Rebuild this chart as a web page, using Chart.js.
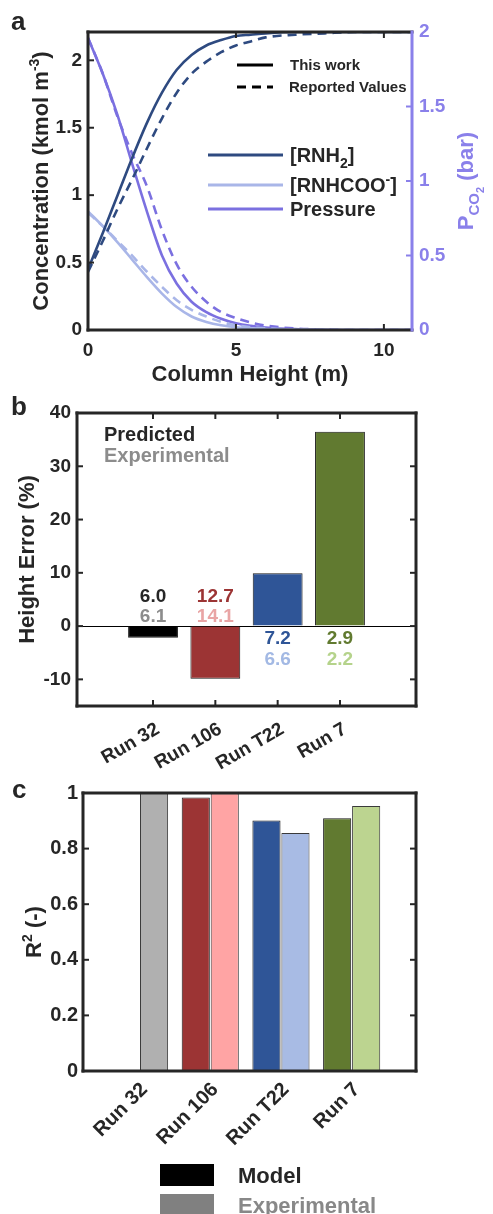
<!DOCTYPE html>
<html><head><meta charset="utf-8">
<script src="https://cdn.jsdelivr.net/npm/chart.js@4.4.0/dist/chart.umd.min.js"></script>
<style>
html,body{margin:0;padding:0;background:#fff;}
body{width:493px;height:1214px;position:relative;overflow:hidden;}
canvas{position:absolute;left:0;}
</style></head><body>
<canvas id="ca" width="493" height="390" style="top:0px"></canvas>
<canvas id="cb" width="493" height="390" style="top:380px"></canvas>
<canvas id="cc" width="493" height="454" style="top:760px"></canvas>
<script>
// ---------------- DATA ----------------
// Panel a: column height (m)
const heightsA = [0, 0.5, 1, 1.5, 2, 2.5, 3, 3.5, 4, 4.5, 5, 5.5, 6, 7, 8, 9, 10, 11];
const rnh2Model      = [0.45, 0.72, 1.00, 1.28, 1.54, 1.76, 1.93, 2.04, 2.11, 2.15, 2.18, 2.19, 2.20, 2.21, 2.21, 2.21, 2.21, 2.21];
const rnh2Reported   = [0.43, 0.66, 0.90, 1.12, 1.35, 1.57, 1.76, 1.90, 1.99, 2.06, 2.11, 2.14, 2.17, 2.19, 2.20, 2.21, 2.21, 2.21];
const rnhcooModel    = [0.88, 0.77, 0.65, 0.52, 0.39, 0.27, 0.17, 0.10, 0.06, 0.035, 0.02, 0.012, 0.007, 0.003, 0.001, 0, 0, 0];
const rnhcooReported = [0.87, 0.77, 0.66, 0.55, 0.43, 0.32, 0.22, 0.15, 0.10, 0.06, 0.035, 0.02, 0.012, 0.004, 0.001, 0, 0, 0];
const pressureModel    = [1.96, 1.72, 1.44, 1.11, 0.79, 0.50, 0.31, 0.19, 0.12, 0.075, 0.045, 0.028, 0.017, 0.006, 0.002, 0, 0, 0];
const pressureReported = [1.96, 1.72, 1.43, 1.18, 0.96, 0.67, 0.44, 0.29, 0.19, 0.12, 0.08, 0.05, 0.03, 0.01, 0.003, 0, 0, 0];
const xTicksA = [0, 5, 10];
const concTicks = [0, 0.5, 1, 1.5, 2];
const presTicks = [0, 0.5, 1, 1.5, 2];

// Panel b / c
const runs = ['Run 32', 'Run 106', 'Run T22', 'Run 7'];
const heightErrorPct = [-2.2, -9.9, 9.9, 36.5];
const predictedHeight = [6.0, 12.7, 7.2, 2.9];
const experimentalHeight = [6.1, 14.1, 6.6, 2.2];
const errTicks = [-10, 0, 10, 20, 30, 40];
const r2Model = [0.004, 0.984, 0.901, 0.909];
const r2Experimental = [0.999, 0.999, 0.856, 0.953];
const r2Ticks = [0, 0.2, 0.4, 0.6, 0.8, 1];

// ---------------- STYLE ----------------
const FAMILY = '"Liberation Sans", Arial, Helvetica, sans-serif';
const ink = '#262626';
const purpleAxis = '#8a80ea';
const colRNH2 = '#2e4a80';
const colRNHCOO = '#a9b6e8';
const colP = '#7b70e0';
const DASH = [9, 6];
const runColors = ['#000000', '#9c3434', '#2f5597', '#617a30'];
const runLightText = ['#8c8c8c', '#e9a5a5', '#a3b9e4', '#b5d38b'];
const runLightBars = ['#b0b0b0', '#ffa4a4', '#a8bbe4', '#bcd490'];

Chart.defaults.font.family = FAMILY;
Chart.defaults.font.weight = 'bold';
Chart.defaults.color = ink;

// ---------------- HELPERS ----------------
function drawRich(ctx, x, y, segs, opt) {
  ctx.save();
  ctx.translate(x, y);
  ctx.rotate(opt.rotation || 0);
  ctx.textBaseline = 'alphabetic';
  ctx.textAlign = 'left';
  let w = 0;
  segs.forEach(s => { ctx.font = `bold ${s.size}px ${FAMILY}`; w += ctx.measureText(s.text).width; });
  let cx = opt.align === 'center' ? -w / 2 : (opt.align === 'right' ? -w : 0);
  segs.forEach(s => {
    ctx.font = `bold ${s.size}px ${FAMILY}`;
    ctx.fillStyle = s.color || opt.color || ink;
    ctx.fillText(s.text, cx, s.dy || 0);
    cx += ctx.measureText(s.text).width;
  });
  ctx.restore();
}

const framePlugin = {
  id: 'frame',
  afterDatasetsDraw(chart, args, opts) {
    const {ctx, chartArea: a} = chart;
    ctx.save();
    (opts.ticks || []).forEach(t => {
      const sc = chart.scales[t.scale];
      ctx.strokeStyle = t.color; ctx.lineWidth = 2;
      sc.ticks.forEach(tk => {
        const p = sc.getPixelForValue(tk.value);
        ctx.beginPath();
        if (t.side === 'left') { ctx.moveTo(a.left, p); ctx.lineTo(a.left + 6, p); }
        else if (t.side === 'right') { ctx.moveTo(a.right, p); ctx.lineTo(a.right - 6, p); }
        else if (t.side === 'bottom') { ctx.moveTo(p, a.bottom); ctx.lineTo(p, a.bottom - 6); }
        else { ctx.moveTo(p, a.top); ctx.lineTo(p, a.top + 6); }
        ctx.stroke();
      });
    });
    const s = opts.sides;
    ctx.lineWidth = 3; ctx.lineCap = 'square';
    const line = (c, x1, y1, x2, y2) => { ctx.strokeStyle = c; ctx.beginPath(); ctx.moveTo(x1, y1); ctx.lineTo(x2, y2); ctx.stroke(); };
    line(s.top, a.left, a.top, a.right, a.top);
    line(s.bottom, a.left, a.bottom, a.right, a.bottom);
    line(s.left, a.left, a.top, a.left, a.bottom);
    line(s.right, a.right, a.top, a.right, a.bottom);
    ctx.restore();
  }
};

const textPlugin = {
  id: 'texts',
  afterDraw(chart, args, opts) {
    const {ctx, chartArea: a} = chart;
    (opts.items || []).forEach(it => {
      const [x, y] = it.at(a, chart);
      drawRich(ctx, x, y, it.segs, it);
    });
    if (opts.custom) opts.custom(chart);
  }
};
Chart.register(framePlugin, textPlugin);

function fixTicks(values) { return s => { s.ticks = values.map(v => ({value: v})); }; }
const plain = v => String(v);
const noGrid = {display: false, drawTicks: false};

// ---------------- PANEL A ----------------
function lineDs(label, arr, color, dash, axis) {
  return {
    label, yAxisID: axis,
    data: heightsA.map((h, i) => ({x: h, y: arr[i]})),
    borderColor: color, borderWidth: 2.6, borderDash: dash,
    pointRadius: 0, fill: false, cubicInterpolationMode: 'monotone'
  };
}
const dsA = [
  lineDs('[RNH2]', rnh2Model, colRNH2, [], 'y'),
  lineDs('[RNH2] reported', rnh2Reported, colRNH2, DASH, 'y'),
  lineDs('[RNHCOO-]', rnhcooModel, colRNHCOO, [], 'y'),
  lineDs('[RNHCOO-] reported', rnhcooReported, colRNHCOO, DASH, 'y'),
  lineDs('Pressure', pressureModel, colP, [], 'y2'),
  lineDs('Pressure reported', pressureReported, colP, DASH, 'y2'),
];

new Chart(document.getElementById('ca'), {
  type: 'line',
  data: {datasets: dsA},
  options: {
    responsive: false, animation: false,
    layout: {padding: {top: 32, left: 0, right: 0, bottom: 0}, autoPadding: false},
    plugins: {
      legend: {display: false}, tooltip: {enabled: false},
      frame: {
        sides: {top: ink, bottom: ink, left: ink, right: purpleAxis},
        ticks: [{scale: 'x', side: 'bottom', color: ink}, {scale: 'x', side: 'top', color: ink},
                {scale: 'y', side: 'left', color: ink}, {scale: 'y2', side: 'right', color: purpleAxis}]
      },
      texts: {
        items: [
          {at: () => [11, 30], segs: [{text: 'a', size: 26}]},
          {at: a => [(a.left + a.right) / 2, 381], align: 'center', segs: [{text: 'Column Height (m)', size: 22}]},
          {at: a => [48, (a.top + a.bottom) / 2], align: 'center', rotation: -Math.PI / 2,
           segs: [{text: 'Concentration (kmol m', size: 22}, {text: '-3', size: 14, dy: -9}, {text: ')', size: 22}]},
          {at: a => [473, (a.top + a.bottom) / 2], align: 'center', rotation: -Math.PI / 2, color: purpleAxis,
           segs: [{text: 'P', size: 22}, {text: 'CO', size: 15, dy: 6}, {text: '2', size: 11, dy: 11}, {text: ' (bar)', size: 22}]},
          // line-style legend
          {at: () => [290, 70], segs: [{text: 'This work', size: 15}]},
          {at: () => [289, 92], segs: [{text: 'Reported Values', size: 15}]},
          // series legend
          {at: () => [290, 162], segs: [{text: '[RNH', size: 20}, {text: '2', size: 14, dy: 6}, {text: ']', size: 20}]},
          {at: () => [290, 192], segs: [{text: '[RNHCOO', size: 20}, {text: '-', size: 14, dy: -8}, {text: ']', size: 20}]},
          {at: () => [290, 216], segs: [{text: 'Pressure', size: 20}]},
        ],
        custom: chart => {
          const ctx = chart.ctx;
          ctx.save();
          ctx.lineWidth = 3;
          const seg = (c, dash, x1, x2, y) => { ctx.strokeStyle = c; ctx.setLineDash(dash); ctx.beginPath(); ctx.moveTo(x1, y); ctx.lineTo(x2, y); ctx.stroke(); };
          seg('#000', [], 237, 273, 65);
          seg('#000', DASH, 237, 273, 87);
          const d = chart.data.datasets;
          seg(d[0].borderColor, [], 208, 283, 155);
          seg(d[2].borderColor, [], 208, 283, 185);
          seg(d[4].borderColor, [], 208, 283, 209);
          ctx.restore();
        }
      }
    },
    scales: {
      x: {
        type: 'linear', position: 'bottom', min: 0, max: 10.95, offset: false,
        afterBuildTicks: fixTicks(xTicksA),
        afterFit: s => { s.height = 60; },
        grid: noGrid, border: {display: false},
        ticks: {font: {size: 19, weight: 'bold'}, color: ink, padding: 9, maxRotation: 0, callback: plain}
      },
      y: {
        type: 'linear', position: 'left', min: 0, max: 2.21,
        afterBuildTicks: fixTicks(concTicks),
        afterFit: s => { s.width = 88; },
        grid: noGrid, border: {display: false},
        ticks: {font: {size: 19, weight: 'bold'}, color: ink, padding: 6, callback: plain}
      },
      y2: {
        type: 'linear', position: 'right', min: 0, max: 2,
        afterBuildTicks: fixTicks(presTicks),
        afterFit: s => { s.width = 81; },
        grid: noGrid, border: {display: false},
        ticks: {font: {size: 19, weight: 'bold'}, color: purpleAxis, padding: 7, callback: plain}
      }
    }
  }
});

// ---------------- PANEL B ----------------
new Chart(document.getElementById('cb'), {
  type: 'bar',
  data: {datasets: [{
    label: 'Height Error',
    data: runs.map((r, i) => ({x: i + 1, y: heightErrorPct[i]})),
    backgroundColor: runColors, borderColor: '#1a1a1a', borderWidth: 1,
    categoryPercentage: 1, barPercentage: 0.8
  }]},
  options: {
    responsive: false, animation: false,
    layout: {padding: {top: 33, left: 0, right: 77, bottom: 0}, autoPadding: false},
    plugins: {
      legend: {display: false}, tooltip: {enabled: false},
      frame: {
        sides: {top: ink, bottom: ink, left: ink, right: ink},
        ticks: [{scale: 'x', side: 'bottom', color: ink}, {scale: 'x', side: 'top', color: ink},
                {scale: 'y', side: 'left', color: ink}, {scale: 'y', side: 'right', color: ink}]
      },
      texts: {
        items: [
          {at: () => [11, 35], segs: [{text: 'b', size: 26}]},
          {at: a => [34, (a.top + a.bottom) / 2], align: 'center', rotation: -Math.PI / 2,
           segs: [{text: 'Height Error (%)', size: 22}]},
          {at: () => [104, 61], segs: [{text: 'Predicted', size: 20, color: ink}]},
          {at: () => [104, 82], segs: [{text: 'Experimental', size: 20, color: '#8c8c8c'}]},
        ],
        custom: chart => {
          const xs = chart.scales.x, ys = chart.scales.y, ctx = chart.ctx;
          const y0 = ys.getPixelForValue(0);
          runs.forEach((r, i) => {
            const x = xs.getPixelForValue(i + 1);
            const neg = heightErrorPct[i] < 0;
            const yp = neg ? y0 - 31 : y0 + 11;
            const ye = neg ? y0 - 11 : y0 + 32;
            drawRich(ctx, x, yp + 7, [{text: predictedHeight[i].toFixed(1), size: 19, color: i === 0 ? ink : runColors[i]}], {align: 'center'});
            drawRich(ctx, x, ye + 7, [{text: experimentalHeight[i].toFixed(1), size: 19, color: runLightText[i]}], {align: 'center'});
          });
        }
      }
    },
    scales: {
      x: {
        type: 'linear', position: 'bottom', min: -0.22, max: 5.22, offset: false,
        afterBuildTicks: s => { s.ticks = runs.map((r, i) => ({value: i + 1})); },
        afterFit: s => { s.height = 64; },
        grid: {display: false, drawTicks: false, offset: false}, border: {display: false},
        ticks: {font: {size: 19, weight: 'bold'}, color: ink, padding: 12, labelOffset: 5,
                minRotation: 30, maxRotation: 30, callback: v => runs[v - 1]}
      },
      y: {
        type: 'linear', position: 'left', min: -15, max: 40,
        afterBuildTicks: fixTicks(errTicks),
        afterFit: s => { s.width = 77; },
        grid: {display: true, drawTicks: false, lineWidth: 1,
               color: c => (c.tick && c.tick.value === 0) ? '#000' : 'rgba(0,0,0,0)'},
        border: {display: false},
        ticks: {font: {size: 19, weight: 'bold'}, color: ink, padding: 6, callback: plain}
      }
    }
  }
});

// ---------------- PANEL C ----------------
new Chart(document.getElementById('cc'), {
  type: 'bar',
  data: {datasets: [
    {label: 'Model', data: runs.map((r, i) => ({x: i + 1, y: r2Model[i]})),
     backgroundColor: runColors, borderColor: '#1a1a1a', borderWidth: 1,
     categoryPercentage: 0.82, barPercentage: 0.97},
    {label: 'Experimental', data: runs.map((r, i) => ({x: i + 1, y: r2Experimental[i]})),
     backgroundColor: runLightBars, borderColor: '#3a3a3a', borderWidth: 1,
     categoryPercentage: 0.82, barPercentage: 0.97}
  ]},
  options: {
    responsive: false, animation: false,
    layout: {padding: {top: 33, left: 0, right: 77, bottom: 0}, autoPadding: false},
    plugins: {
      legend: {display: false}, tooltip: {enabled: false},
      frame: {
        sides: {top: ink, bottom: ink, left: ink, right: ink},
        ticks: [{scale: 'y', side: 'left', color: ink}, {scale: 'y', side: 'right', color: ink}]
      },
      texts: {
        items: [
          {at: () => [12, 38], segs: [{text: 'c', size: 26}]},
          {at: a => [41, (a.top + a.bottom) / 2], align: 'center', rotation: -Math.PI / 2,
           segs: [{text: 'R', size: 22}, {text: '2', size: 14, dy: -9}, {text: ' (-)', size: 22}]},
          {at: () => [238, 423], segs: [{text: 'Model', size: 22, color: ink}]},
          {at: () => [238, 453], segs: [{text: 'Experimental', size: 22, color: '#888888'}]},
        ],
        custom: chart => {
          const ctx = chart.ctx;
          ctx.save();
          ctx.fillStyle = runColors[0]; ctx.fillRect(160, 404, 54, 22);
          ctx.fillStyle = '#808080'; ctx.fillRect(160, 434, 54, 22);
          ctx.restore();
        }
      }
    },
    scales: {
      x: {
        type: 'linear', position: 'bottom', min: 0.2, max: 4.91, offset: false,
        afterBuildTicks: s => { s.ticks = runs.map((r, i) => ({value: i + 1})); },
        afterFit: s => { s.height = 143; },
        grid: {display: false, drawTicks: false, offset: false}, border: {display: false},
        ticks: {font: {size: 20, weight: 'bold'}, color: ink, padding: 7, labelOffset: 5,
                minRotation: 45, maxRotation: 45, callback: v => runs[v - 1]}
      },
      y: {
        type: 'linear', position: 'left', min: 0, max: 1,
        afterBuildTicks: fixTicks(r2Ticks),
        afterFit: s => { s.width = 83; },
        grid: noGrid, border: {display: false},
        ticks: {font: {size: 20, weight: 'bold'}, color: ink, padding: 5, callback: plain}
      }
    }
  }
});
</script>
</body></html>
